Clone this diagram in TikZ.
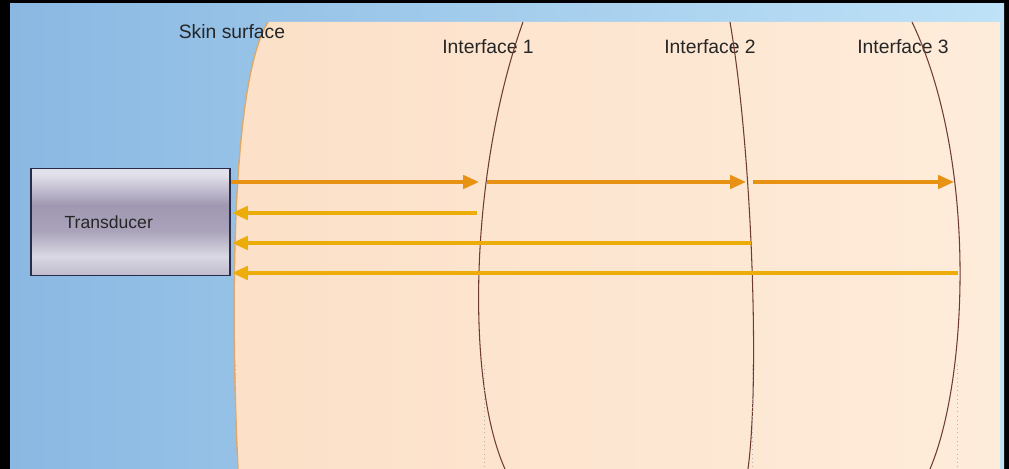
\documentclass[tikz,border=0pt]{standalone}
\usepackage{fontspec}
\setmainfont{Liberation Sans}
\usepackage{tikz}
\usetikzlibrary{arrows.meta,positioning}
\definecolor{bgleft}{RGB}{138,184,226}
\definecolor{bgright}{RGB}{190,226,247}
\definecolor{skinleft}{RGB}{252,224,200}
\definecolor{skinright}{RGB}{254,236,218}
\definecolor{skinedge}{RGB}{222,168,104}
\definecolor{ifacebrown}{RGB}{110,60,50}
\definecolor{pulseorange}{RGB}{232,146,20}
\definecolor{echoyellow}{RGB}{236,172,10}
\definecolor{tdark}{RGB}{92,86,120}
\definecolor{tmid}{RGB}{160,152,178}
\definecolor{tlight}{RGB}{232,232,240}
\definecolor{tborder}{RGB}{40,44,72}
\pgfdeclareverticalshading{metal}{100bp}{color(0bp)=(tdark); color(14bp)=(tmid);
    color(34bp)=(tlight!80!tmid); color(46bp)=(tmid!90!white); color(58bp)=(tmid);
    color(72bp)=(tlight!90!tmid); color(82bp)=(tlight); color(92bp)=(tmid); color(100bp)=(tdark)}
\tikzstyle{probe} = [rectangle, shading=metal, draw=tborder, line width=0.8pt,
    minimum width=3.98cm, minimum height=2.14cm, inner sep=0pt]
\tikzstyle{lbl} = [font=\fontsize{11}{13}\selectfont, text=black!85, inner sep=0pt]
\tikzstyle{iface} = [draw=ifacebrown, line width=0.6pt]
\tikzstyle{guide} = [draw=gray!60, dotted, line width=0.4pt]
\tikzstyle{pulse} = [line width=2pt, draw=pulseorange, -{Triangle[length=0.32cm,width=0.27cm]}]
\tikzstyle{echo} = [line width=2pt, draw=echoyellow, -{Triangle[length=0.32cm,width=0.27cm]}]

\begin{document}
\begin{tikzpicture}[x=0.02cm, y=-0.02cm]
\useasboundingbox (0,0) rectangle (1009,469);

% ── Background ────
\fill[black] (0,0) rectangle (1009,469);
\shade[left color=bgleft, right color=bgright] (10,4) rectangle (1004,469);

% ── Skin ────
\shade[left color=skinleft, right color=skinright]
  (268,22) .. controls (232,80) and (230,300) .. (238,469)
  -- (1000,469) -- (1000,22) -- cycle;
\draw[skinedge, line width=0.8pt] (268,22) .. controls (232,80) and (230,300) .. (238,469);

% ── Labels ────
\node[lbl] (skinlbl) at (232,32) {Skin surface};
\node[lbl] (ifl1) at (488,47) {Interface 1};
\node[lbl] (ifl2) at (710,47) {Interface 2};
\node[lbl] (ifl3) at (903,47) {Interface 3};

% ── Interfaces ────
\draw[iface] (523,22) .. controls (470,170) and (465,380) .. (505,469);
\draw[iface] (730,22) .. controls (752,150) and (760,380) .. (748,469);
\draw[iface] (912,22) .. controls (978,160) and (968,380) .. (930,469);

% ── Dotted guides ────
\foreach \gx in {235,484,752,957}
  \draw[guide] (\gx,365) -- (\gx,469);

% ── Transducer ────
\node[probe] (tr) at (130.5,222) {};
\node[lbl, font=\fontsize{10}{12}\selectfont, anchor=west, right=0.68cm of tr.west] (trlbl) {Transducer};

% ── Pulse and echo points ────
\coordinate (t1) at (231,182);
\coordinate (t2) at (232,213);
\coordinate (t3) at (232,243);
\coordinate (t4) at (232,273);
\coordinate (e1a) at (479,182);
\coordinate (e1b) at (487,182);
\coordinate (e2a) at (746,182);
\coordinate (e2b) at (753,182);
\coordinate (e3a) at (954,182);
\coordinate (r1) at (477,213);
\coordinate (r2) at (751,243);
\coordinate (r3) at (958,273);

% ── Arrows ────
\draw[pulse] (t1) -- (e1a);
\draw[pulse] (e1b) -- (e2a);
\draw[pulse] (e2b) -- (e3a);
\draw[echo] (r1) -- (t2);
\draw[echo] (r2) -- (t3);
\draw[echo] (r3) -- (t4);

\end{tikzpicture}
\end{document}
